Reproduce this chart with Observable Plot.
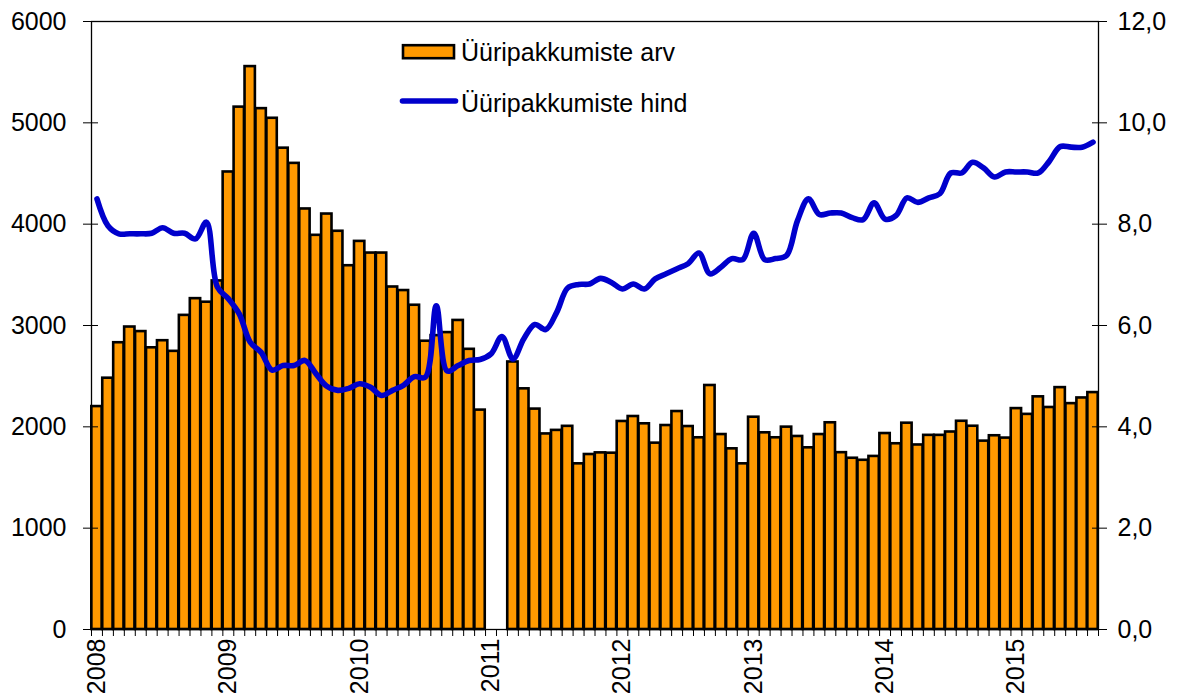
<!DOCTYPE html>
<html>
<head>
<meta charset="utf-8">
<script src="https://cdn.jsdelivr.net/npm/d3@7"></script>
<script src="https://cdn.jsdelivr.net/npm/@observablehq/plot@0.6"></script>
<style>
  html, body { margin: 0; padding: 0; background: #fff; }
  #wrap { position: relative; width: 1182px; height: 700px; overflow: hidden; }
  #legend { position: absolute; left: 0; top: 0; pointer-events: none; }
</style>
</head>
<body>
<div id="wrap"></div>
<script>
// ---- data ----
const years = [2008, 2009, 2010, 2011, 2012, 2013, 2014, 2015];
const monthsInLastYear = 8;

// Üüripakkumiste arv (left axis), monthly Jan 2008 – Aug 2015 (Jan/Feb 2011 missing)
const offerCount = [
  2200, 2480, 2830, 2985, 2940, 2780, 2850, 2745, 3100, 3265, 3230, 3440,
  4515, 5155, 5555, 5140, 5045, 4750, 4600, 4150, 3890, 4100, 3930, 3590,
  3830, 3715, 3715, 3380, 3345, 3200, 2845, 2900, 2930, 3050, 2765, 2165,
  null, null, 2640, 2375, 2175, 1930, 1965, 2005, 1635, 1727, 1743, 1740,
  2053, 2102, 2030, 1839, 2013, 2151, 2003, 1892, 2408, 1924, 1783, 1635,
  2095, 1941, 1892, 1997, 1905, 1793, 1924, 2040, 1745, 1690, 1670, 1708,
  1934, 1833, 2036, 1821, 1916, 1916, 1949, 2055, 2006, 1859, 1912, 1889,
  2180, 2123, 2296, 2191, 2387, 2229, 2285, 2338
];

// Üüripakkumiste hind (right axis)
const offerPrice = [
  8.50, 7.97, 7.81, 7.81, 7.81, 7.82, 7.93, 7.82, 7.82, 7.71, 8.04, 6.76,
  6.53, 6.23, 5.67, 5.47, 5.12, 5.21, 5.21, 5.31, 5.05, 4.80, 4.72, 4.76,
  4.85, 4.78, 4.62, 4.72, 4.82, 4.99, 4.98, 6.39, 5.10, 5.21, 5.31, 5.33,
  5.44, 5.78, 5.34, 5.74, 6.02, 5.92, 6.26, 6.74, 6.81, 6.82, 6.93, 6.85,
  6.72, 6.82, 6.72, 6.92, 7.02, 7.12, 7.22, 7.43, 7.02, 7.15, 7.32, 7.30,
  7.82, 7.30, 7.32, 7.38, 8.07, 8.50, 8.19, 8.22, 8.22, 8.13, 8.09, 8.42,
  8.10, 8.17, 8.52, 8.43, 8.52, 8.60, 9.01, 9.01, 9.22, 9.11, 8.93, 9.03,
  9.03, 9.03, 9.01, 9.24, 9.53, 9.52, 9.52, 9.62
];

const leftTicks = [0, 1000, 2000, 3000, 4000, 5000, 6000];
const rightTickLabels = ["0,0", "2,0", "4,0", "6,0", "8,0", "10,0", "12,0"];
const seriesNames = ["Üüripakkumiste arv", "Üüripakkumiste hind"];

// ---- build table ----
const rows = [];
years.forEach((yr, yi) => {
  const n = yi === years.length - 1 ? monthsInLastYear : 12;
  for (let m = 0; m < n; m++) rows.push({k: rows.length, year: yr, month: m + 1});
});
rows.forEach((r, i) => { r.count = offerCount[i]; r.price = offerPrice[i]; });
const nSlots = rows.length;
const ratio = leftTicks[leftTicks.length - 1] / 12; // right axis 0–12 mapped to left 0–6000
const yearCenters = years.map((yr, yi) => yi * 12 + 0.5);
const slotEdges = d3.range(0, nSlots + 1);

const font = "'Liberation Sans', Arial, Helvetica, sans-serif";

const chart = Plot.plot({
  width: 1182,
  height: 700,
  marginLeft: 91,
  marginRight: 84,
  marginTop: 21,
  marginBottom: 71,
  style: {fontSize: "25px", fontFamily: font, background: "white", color: "black", overflow: "visible"},
  x: {type: "linear", domain: [0, nSlots], label: null},
  y: {domain: [0, 6000], label: null},
  marks: [
    Plot.rectY(rows.filter(d => d.count != null), {
      x1: d => d.k, x2: d => d.k + 1, y: "count",
      fill: "#FF9900", stroke: "black", strokeWidth: 2.6,
      insetLeft: 0.3, insetRight: 0.3
    }),
    Plot.line(rows, {
      x: d => d.k + 0.5, y: d => d.price * ratio,
      stroke: "#0000CC", strokeWidth: 5.6, curve: "catmull-rom",
      strokeLinejoin: "round", strokeLinecap: "round"
    }),
    Plot.frame({stroke: "black", strokeWidth: 1.3}),
    // left axis
    Plot.axisY({anchor: "left", label: null, ticks: leftTicks, tickFormat: d => String(d), tickSize: 8, tickPadding: 17}),
    Plot.axisY({anchor: "left", label: null, ticks: leftTicks, tickFormat: () => "", tickSize: -7}),
    // right axis
    Plot.axisY({anchor: "right", label: null, ticks: leftTicks, tickFormat: d => rightTickLabels[leftTicks.indexOf(d)], tickSize: 8, tickPadding: 11}),
    Plot.axisY({anchor: "right", label: null, ticks: leftTicks, tickFormat: () => "", tickSize: -7}),
    // x axis: month boundary ticks + year labels
    Plot.axisX({anchor: "bottom", label: null, ticks: slotEdges, tickFormat: () => "", tickSize: 7}),
    Plot.axisX({anchor: "bottom", label: null, ticks: yearCenters, tickFormat: d => String(years[Math.round((d - 0.5) / 12)]),
      tickSize: 0, tickPadding: 9, tickRotate: -90})
  ]
});
document.getElementById("wrap").appendChild(chart);

// ---- legend (inside plot area) ----
const ns = "http://www.w3.org/2000/svg";
const lg = document.createElementNS(ns, "svg");
lg.setAttribute("id", "legend");
lg.setAttribute("width", 1182);
lg.setAttribute("height", 700);
lg.style.fontFamily = font;
lg.innerHTML = `
  <rect x="403" y="45.2" width="51" height="13" fill="#FF9900" stroke="black" stroke-width="2.6"/>
  <text x="461" y="60.7" font-size="25" fill="black">${seriesNames[0]}</text>
  <line x1="402.5" y1="101" x2="455.5" y2="101" stroke="#0000CC" stroke-width="5.6" stroke-linecap="round"/>
  <text x="461" y="111.7" font-size="25" fill="black">${seriesNames[1]}</text>
`;
document.getElementById("wrap").appendChild(lg);
</script>
</body>
</html>
